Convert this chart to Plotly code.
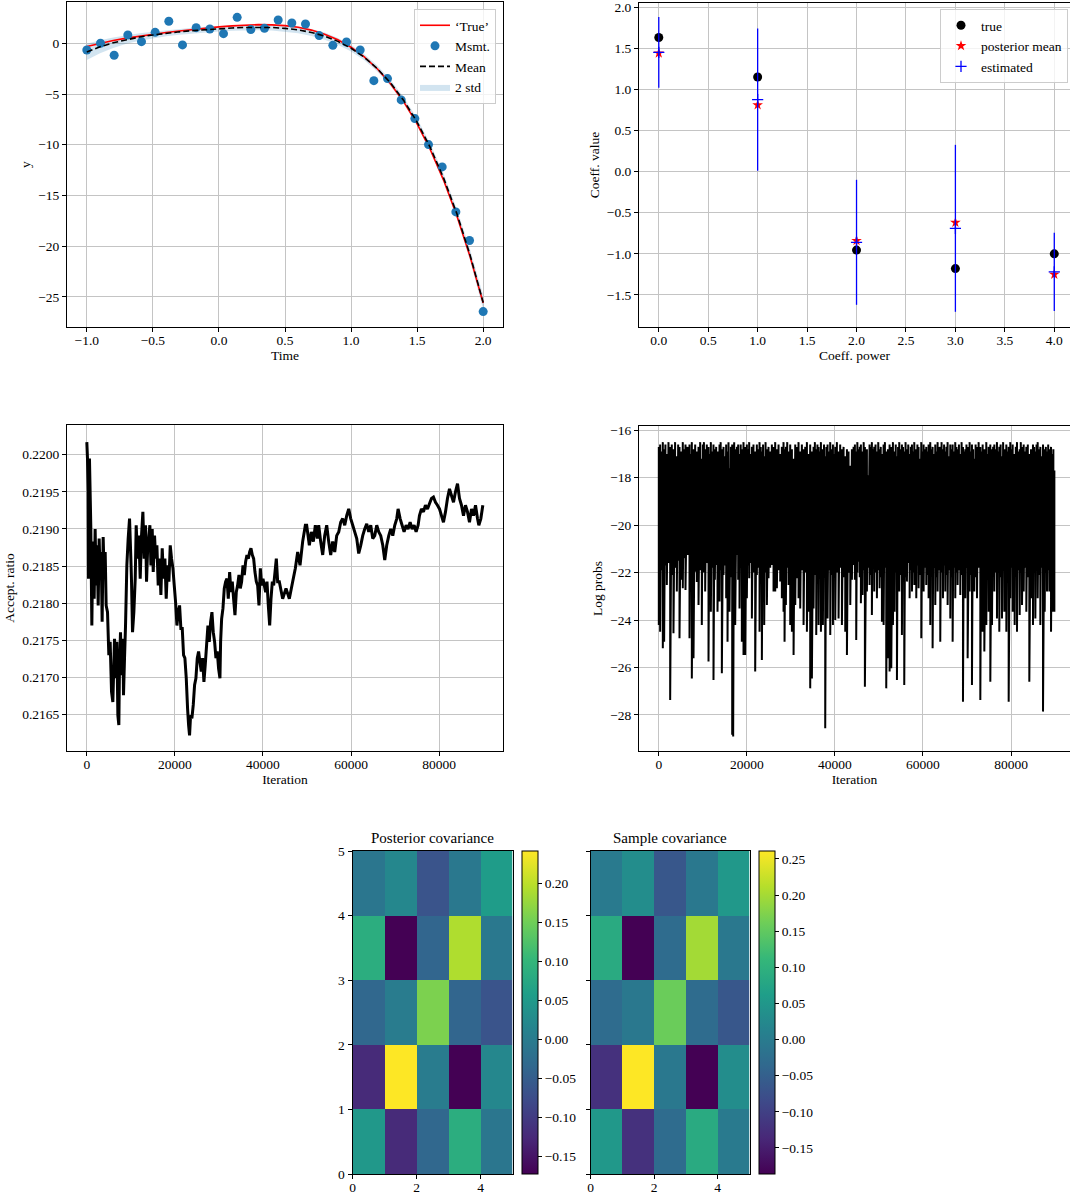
import numpy as np
import plotly.graph_objects as go

W, H = 1070, 1195
FONT = "Liberation Serif"
FS = 13.5

# ---------------- Panel 1: measurements and polynomial fit ----------------
msmt_t = np.linspace(-1.0, 2.0, 30)
msmt_y = [-0.66, 0.00, -1.18, 0.82, 0.16, 1.08, 2.17, -0.16, 1.54, 1.41,
          0.95, 2.56, 1.35, 1.48, 2.30, 2.00, 1.90, 0.76, -0.20, 0.13,
          -0.66, -3.68, -3.48, -5.58, -7.42, -9.98, -12.18, -16.62, -19.44, -26.44]
curve_t = np.linspace(-1.0, 2.0, 31)
true_y = [-0.31, 0.01, 0.28, 0.51, 0.71, 0.89, 1.06, 1.21, 1.36, 1.50,
          1.62, 1.72, 1.80, 1.84, 1.82, 1.74, 1.58, 1.30, 0.90, 0.35,
          -0.39, -1.34, -2.53, -4.01, -5.80, -7.94, -10.49, -13.48, -16.96, -20.99, -25.60]
mean_y = [-0.85, -0.34, 0.05, 0.37, 0.62, 0.82, 0.99, 1.13, 1.25, 1.35,
          1.44, 1.51, 1.56, 1.58, 1.56, 1.47, 1.32, 1.07, 0.71, 0.19,
          -0.49, -1.38, -2.51, -3.93, -5.66, -7.76, -10.28, -13.26, -16.76, -20.83, -25.54]
band_2std = [0.80, 0.65, 0.52, 0.42, 0.36, 0.32, 0.30, 0.29, 0.28, 0.28,
             0.28, 0.28, 0.28, 0.29, 0.30, 0.32, 0.34, 0.35, 0.35, 0.34,
             0.32, 0.30, 0.30, 0.31, 0.33, 0.35, 0.37, 0.40, 0.45, 0.55, 0.70]

# ---------------- Panel 2: coefficients ----------------
coeff_power = [0, 1, 2, 3, 4]
coeff_true = [1.63, 1.15, -0.955, -1.18, -1.00]
coeff_post_mean = [1.44, 0.81, -0.84, -0.62, -1.25]
coeff_est = [1.45, 0.875, -0.86, -0.69, -1.22]
coeff_est_err = [0.43, 0.865, 0.76, 1.015, 0.475]

# ---------------- Panel 3: acceptance ratio ----------------
acc_iter = [0, 150, 300, 380, 600, 900, 1140, 1360, 1670, 1890, 2120, 2350, 2580, 2800, 3030,
            3260, 3480, 3710, 3940, 4170, 4390, 4700, 5000, 5300, 5610, 5910, 6290, 6520, 6820,
            7050, 7270, 7420, 7650, 7880, 8180, 8330, 8560, 8790, 9090, 9390, 9700, 10000, 10150,
            10380, 10680, 10990, 11210, 11520, 11820, 12120, 12420, 12730, 13030, 13330, 13560,
            13790, 14090, 14320, 14550, 14850, 15080, 15380, 15610, 15910, 16210, 16520, 16820,
            17120, 17420, 17730, 18030, 18330, 18640, 18940, 19240, 19550, 19850, 20150, 20460,
            20760, 21060, 21360, 21670, 21970, 22270, 22580, 22880, 23110, 23330, 23560, 23860,
            24170, 24470, 24770, 25080, 25380, 25680, 25990, 26290, 26590, 26890, 27200, 27500,
            27800, 28110, 28410, 28710, 29020, 29320, 29620, 29920, 30230, 30380, 30610, 30910,
            31210, 31520, 31820, 32120, 32430, 32730, 33030, 33330, 33640, 33940, 34240, 34550,
            34850, 35150, 35460, 35760, 36060, 36360, 36670, 36970, 37270, 37580, 37880, 38180,
            38490, 38790, 39090, 39400, 39700, 40000, 40300, 40610, 40910, 41210, 41520, 41820,
            42120, 42430, 42730, 43030, 43330,
            43710, 44470, 45230, 45980, 46740, 47350, 47880, 48410, 49010, 49620, 49920, 50530,
            50980, 51440, 51890, 52350, 52650, 53100, 53560, 54010, 54470, 54920, 55380, 55830,
            56290, 56740, 57200, 57650, 58100, 58560, 59010, 59470, 59920, 60380, 60830, 61290,
            61740, 62200, 62650, 63100, 63560, 64010, 64470, 64920, 65380, 65830, 66290, 66740,
            67200, 67650, 68100, 68560, 69010, 69470, 69920, 70380, 70680, 71140, 71590, 72040,
            72500, 72950, 73410, 73860, 74320, 74770, 75230, 75530, 75980, 76440, 76890, 77350,
            77800, 78260, 78710, 79170, 79620, 80080, 80530, 80980, 81440, 81890, 82350, 82800,
            83260, 83710, 84170, 84620, 85070, 85530, 85980, 86440, 86890, 87350, 87800, 88260,
            88710, 89010, 89470, 89920]
acc_ratio = [0.22017, 0.21995, 0.21950, 0.21833, 0.21995, 0.21905, 0.21770, 0.21883, 0.21806,
             0.21900, 0.21824, 0.21878, 0.21797, 0.21887, 0.21838, 0.21869, 0.21775, 0.21889,
             0.21838, 0.21869, 0.21797, 0.21788, 0.21730, 0.21748, 0.21681, 0.21667, 0.21752,
             0.21699, 0.21748, 0.21649, 0.21636, 0.21717, 0.21761, 0.21703, 0.21752, 0.21676,
             0.21726, 0.21770, 0.21851, 0.21887, 0.21914, 0.21860, 0.21829, 0.21761, 0.21788,
             0.21833, 0.21905, 0.21860, 0.21891, 0.21833, 0.21891, 0.21923, 0.21860, 0.21905,
             0.21829, 0.21869, 0.21891, 0.21905, 0.21851, 0.21900, 0.21842, 0.21891, 0.21860,
             0.21878, 0.21824, 0.21860, 0.21811, 0.21874, 0.21833, 0.21860, 0.21806, 0.21851,
             0.21829, 0.21878, 0.21860, 0.21847, 0.21824, 0.21802, 0.21770, 0.21788, 0.21797,
             0.21766, 0.21766, 0.21730, 0.21726, 0.21699, 0.21658, 0.21636, 0.21622, 0.21649,
             0.21645, 0.21663, 0.21690, 0.21699, 0.21726, 0.21735, 0.21721, 0.21708, 0.21726,
             0.21694, 0.21717, 0.21744, 0.21770, 0.21748, 0.21775, 0.21788, 0.21761, 0.21748,
             0.21726, 0.21735, 0.21712, 0.21699, 0.21748, 0.21779, 0.21793, 0.21820, 0.21829,
             0.21833, 0.21806, 0.21842, 0.21815, 0.21829, 0.21806, 0.21784, 0.21815, 0.21824,
             0.21838, 0.21820, 0.21829, 0.21851, 0.21838, 0.21856, 0.21865, 0.21860, 0.21869,
             0.21874, 0.21865, 0.21860, 0.21842, 0.21829, 0.21824, 0.21797, 0.21847, 0.21824,
             0.21833, 0.21824, 0.21815, 0.21829, 0.21797, 0.21770, 0.21806, 0.21829, 0.21824,
             0.21842, 0.21860, 0.21829,
             0.21829, 0.21806, 0.21820, 0.21806, 0.21829, 0.21847, 0.21869, 0.21851, 0.21883,
             0.21905, 0.21905, 0.21878, 0.21896, 0.21883, 0.21905, 0.21887, 0.21905, 0.21883,
             0.21865, 0.21891, 0.21905, 0.21883, 0.21865, 0.21883, 0.21869, 0.21891, 0.21896,
             0.21909, 0.21914, 0.21905, 0.21918, 0.21927, 0.21914, 0.21905, 0.21896, 0.21887,
             0.21867, 0.21878, 0.21891, 0.21900, 0.21907, 0.21896, 0.21905, 0.21887, 0.21891,
             0.21905, 0.21896, 0.21891, 0.21878, 0.21858, 0.21878, 0.21891, 0.21900, 0.21891,
             0.21905, 0.21914, 0.21927, 0.21914, 0.21905, 0.21896, 0.21905, 0.21900, 0.21909,
             0.21900, 0.21905, 0.21896, 0.21905, 0.21918, 0.21927, 0.21923, 0.21932, 0.21927,
             0.21934, 0.21941, 0.21943, 0.21936, 0.21932, 0.21927, 0.21918, 0.21909, 0.21923,
             0.21941, 0.21954, 0.21945, 0.21936, 0.21950, 0.21961, 0.21941, 0.21932, 0.21918,
             0.21932, 0.21923, 0.21909, 0.21927, 0.21918, 0.21932, 0.21914, 0.21905, 0.21914,
             0.21932]

# ---------------- Panel 4: log probs (per-bin max / min of the trace) ----------------
lp_iter = [0, 300, 600, 910, 1210, 1500, 1820, 2200, 2580, 2950,
           3330, 3700, 4090, 4400, 4700, 5080, 5450, 5750, 6060, 6520,
           6970, 7250, 7500, 7880, 8260, 8640, 9020, 9400, 9770, 10000,
           10250, 10530, 10900, 11290, 11560, 11820, 12120, 12420, 12730, 13030,
           13330, 13790, 14050, 14320, 14700, 15000, 15300, 15610, 15830, 16060,
           16360, 16670, 16890, 17120, 17350, 17730, 18030, 18330, 18600, 18860,
           19240, 19430, 19620, 20000, 20260, 20530, 20830, 21140, 21500, 21890,
           22270, 22570, 22880, 23150, 23410, 23680, 23940, 24250, 24550, 24920,
           25300, 25680, 26060, 26440, 26820, 27200, 27580, 27950, 28330, 28560,
           28860, 29170, 29470, 29850, 30230, 30610, 30990, 31360, 31740, 32120,
           32500, 32880, 33260, 33640, 34020, 34390, 34770, 35150, 35450, 35760,
           36030, 36290, 36550, 36820, 37270, 37530, 37800, 38060, 38330, 38630,
           38940, 39250, 39550, 39800, 40080, 40450, 40830, 41200, 41590, 41970,
           42350, 42730, 43100, 43490, 43860,
           44240, 44540, 44840, 45100, 45370, 45640, 45900, 46280, 46540, 46810,
           47270, 47570, 47870, 48130, 48400, 48660, 48930, 49230, 49540, 49850,
           50150, 50410, 50680, 51060, 51360, 51660, 52040, 52420, 52800, 53180,
           53560, 53820, 54090, 54350, 54620, 54920, 55220, 55480, 55750, 56050,
           56360, 56660, 56970, 57230, 57500, 57760, 58030, 58480, 58740, 59010,
           59310, 59620, 59880, 60150, 60450, 60750, 61010, 61280, 61660, 61920,
           62190, 62500, 62800, 63060, 63330, 63630, 63930, 64230, 64540, 64800,
           65070, 65330, 65600, 65900, 66210, 66470, 66740, 67040, 67340, 67600,
           67870, 68170, 68480, 68780, 69090, 69350, 69620, 69880, 70150, 70600,
           70860, 71130, 71400, 71660, 71960, 72270, 72650, 73030, 73300, 73560,
           73940, 74390, 74650, 74920, 75300, 75680, 75940, 76210, 76510, 76810,
           77070, 77340, 77640, 77950, 78210, 78480, 78940, 79200, 79470, 79840,
           80110, 80380, 80830, 81090, 81360, 81660, 81970, 82230, 82500, 82880,
           83180, 83480, 83820, 84160, 84540, 84990, 85260, 85530, 85800, 86060,
           86360, 86660, 86960, 87270, 87650, 87910, 88180, 88450, 88710, 89090,
           89390, 89620, 89850]
lp_low = [-24.21, -24.49, -21.9, -25.19, -24.91, -21.7, -22.52, -21.6, -27.37, -22.1,
          -24.56, -21.8, -22.80, -21.5, -24.77, -22.3, -22.66, -21.4, -22.73, -21.26,
          -24.77, -22.0, -26.46, -25.61, -21.96, -22.4, -23.37, -21.9, -24.21, -21.26,
          -22.0, -22.80, -21.6, -25.75, -22.2, -23.65, -21.8, -26.53, -22.3, -21.68,
          -23.65, -23.22, -21.9, -26.24, -22.10, -21.7, -23.08, -24.91, -21.9, -23.65,
          -22.2, -28.84, -28.91, -22.0, -24.21, -21.26, -22.3, -23.51, -21.8, -24.91,
          -25.47, -22.1, -25.47, -23.08, -21.7, -22.24, -21.6, -23.93, -22.0, -26.17,
          -22.10, -21.8, -24.49, -22.2, -25.68, -21.9, -24.21, -22.0, -23.37, -22.24,
          -21.8, -21.68, -22.80, -22.80, -22.66, -21.9, -22.38, -23.08, -23.65, -24.91,
          -23.37, -21.8, -22.52, -24.21, -24.49, -25.47, -23.37, -22.24, -23.08, -23.51,
          -21.9, -24.21, -22.0, -24.49, -23.65, -26.88, -26.46, -23.51, -22.1, -24.63,
          -22.0, -24.21, -21.8, -24.49, -24.21, -22.2, -28.56, -22.0, -23.93, -21.9,
          -24.63, -22.1, -24.21, -21.7, -24.00, -22.0, -23.93, -21.8, -24.21, -22.2,
          -24.49, -25.47, -22.0, -23.37, -22.3,
          -21.68, -22.3, -24.84, -22.0, -21.54, -22.2, -23.29, -22.94, -21.9, -26.81,
          -22.80, -21.8, -22.52, -22.1, -23.79, -21.7, -22.80, -22.0, -23.08, -21.9,
          -22.66, -22.2, -24.07, -24.21, -21.8, -26.88, -25.61, -26.17, -26.03, -24.21,
          -23.65, -22.0, -26.53, -21.7, -22.80, -22.1, -24.63, -21.9, -26.74, -22.2,
          -22.38, -21.6, -23.08, -21.9, -22.80, -22.0, -22.52, -23.08, -21.7, -22.66,
          -22.1, -24.77, -21.9, -22.80, -21.8, -22.52, -22.1, -23.08, -24.21, -22.0,
          -25.19, -21.8, -23.37, -22.2, -22.80, -21.9, -24.91, -22.0, -23.08, -21.7,
          -22.80, -22.1, -23.37, -21.9, -23.93, -22.2, -24.91, -21.8, -23.08, -22.0,
          -22.52, -21.9, -22.94, -22.1, -27.44, -22.0, -23.08, -21.8, -25.61, -22.80,
          -22.1, -26.74, -21.9, -22.80, -22.2, -23.08, -21.8, -27.37, -22.0, -24.49,
          -25.33, -24.21, -22.1, -23.65, -26.60, -24.21, -21.9, -22.80, -22.0, -23.93,
          -21.8, -24.49, -22.2, -23.93, -21.9, -23.65, -24.49, -22.0, -27.44, -23.08,
          -21.8, -23.65, -24.21, -22.1, -24.49, -21.9, -23.79, -22.0, -23.37, -22.80,
          -21.8, -23.65, -22.2, -26.60, -23.08, -24.21, -22.0, -23.93, -21.9, -23.08,
          -22.1, -24.21, -21.8, -27.86, -23.65, -22.0, -22.80, -21.9, -22.80, -24.49,
          -23.65, -22.1, -23.65]
lp_high = [-16.7, -16.6, -16.9, -16.5, -16.8, -16.6, -17.0, -16.5, -16.7, -16.6,
           -16.8, -16.5, -17.1, -16.6, -16.7, -16.9, -16.5, -16.8, -16.6, -16.7,
           -16.6, -17.0, -16.5, -16.8, -16.6, -16.9, -16.7, -16.5, -17.2, -16.6,
           -16.5, -16.8, -16.6, -16.7, -17.0, -16.5, -16.9, -16.6, -16.8, -16.7,
           -16.9, -16.6, -16.5, -16.8, -16.7, -17.1, -16.6, -16.9, -16.5, -17.6,
           -16.7, -16.6, -16.9, -16.5, -16.8, -16.7, -16.6, -17.0, -16.6, -16.8,
           -16.5, -16.9, -16.7, -16.6, -16.8, -16.5, -17.0, -16.7, -16.6, -16.9,
           -16.6, -16.8, -16.5, -16.7, -16.9, -16.6, -17.1, -16.5, -16.8, -16.7,
           -16.9, -16.6, -16.7, -16.5, -16.8, -16.6, -17.0, -16.7, -16.5, -16.8,
           -16.7, -16.5, -16.9, -16.6, -16.8, -17.2, -16.6, -16.7, -16.5, -16.9,
           -16.6, -16.8, -16.7, -16.5, -17.0, -16.6, -16.9, -16.7, -16.5, -16.8,
           -16.6, -16.7, -16.9, -16.5, -16.8, -16.6, -17.1, -16.7, -16.6, -16.9,
           -16.5, -16.8, -16.6, -17.0, -16.7, -16.5, -16.9, -16.6, -16.8, -16.7,
           -17.1, -16.8, -16.9, -17.5, -16.8,
           -16.7, -16.6, -16.9, -16.5, -16.8, -16.7,
           -16.6, -16.9, -16.5, -16.7, -16.8, -17.9, -16.6, -16.7, -16.5, -16.8,
           -16.7, -16.6, -16.9, -16.5, -16.8, -16.7, -17.0, -16.6, -16.5, -16.9,
           -16.8, -16.6, -16.7, -16.5, -16.9, -16.6, -17.1, -16.7, -16.5, -16.8,
           -16.6, -16.7, -16.9, -16.5, -16.8, -16.6, -17.0, -16.7, -16.6, -16.9,
           -16.5, -16.8, -16.6, -16.7, -17.2, -16.5, -16.9, -16.6, -16.8, -16.7,
           -16.9, -16.6, -16.5, -16.8, -16.7, -17.0, -16.6, -16.9, -16.5, -16.7,
           -16.7, -16.5, -16.8, -16.6, -16.9, -16.7, -16.5, -17.1, -16.6, -16.8,
           -16.6, -16.9, -16.5, -16.7, -16.8, -16.6, -17.0, -16.5, -16.7, -16.9,
           -16.8, -16.6, -16.7, -16.5, -16.9, -16.6, -16.8, -17.2, -16.6, -16.7,
           -16.5, -16.7, -16.9, -16.6, -16.8, -16.5, -17.0, -16.7, -16.6, -16.8,
           -16.7, -16.6, -16.8, -16.5, -16.9, -16.7, -16.6, -17.1, -16.5, -16.8,
           -16.6, -16.9, -16.7, -16.5, -16.8, -16.6, -17.0, -16.7, -16.5, -16.9,
           -16.8, -16.5, -16.7, -16.6, -16.9, -16.7, -16.6, -17.0, -16.8, -16.6,
           -16.7, -16.9, -16.6, -16.5, -16.8, -16.7, -17.1, -16.6, -16.8, -16.7,
           -16.9, -16.6, -16.8, -16.7, -17.0, -16.8, -17.7]

# ---------------- Panels 5/6: covariance matrices (row 0 at bottom) ----------------
cov_edges = [0, 1, 2, 3, 4, 5]
post_cov = [[0.047, -0.123, -0.035, 0.085, -0.010],
            [-0.123, 0.242, 0.000, -0.173, 0.020],
            [-0.035, 0.000, 0.159, -0.038, -0.065],
            [0.085, -0.173, -0.038, 0.192, -0.007],
            [-0.010, 0.020, -0.065, -0.007, 0.055]]
samp_cov = [[0.051, -0.123, -0.030, 0.087, -0.003],
            [-0.123, 0.261, -0.007, -0.186, 0.033],
            [-0.030, -0.007, 0.158, -0.030, -0.065],
            [0.087, -0.186, -0.030, 0.199, -0.007],
            [-0.003, 0.033, -0.065, -0.007, 0.051]]


# ---------------- helpers ----------------
def dom_x(a, b):
    return [a / W, b / W]


def dom_y(top, bottom):
    return [1 - bottom / H, 1 - top / H]


tick_font = dict(family=FONT, size=FS, color="black")


def ax(**kw):
    base = dict(showline=True, linecolor="black", linewidth=1, mirror=True,
                ticks="outside", ticklen=4, tickwidth=1, tickcolor="black",
                showgrid=True, gridcolor="#c4c4c4", gridwidth=1, zeroline=False,
                tickfont=tick_font, automargin=False, ticklabeloverflow="allow")
    base.update(kw)
    return base


def ttl(text, standoff):
    return dict(text=text, font=dict(family=FONT, size=FS, color="black"), standoff=standoff)


fig = go.Figure()

# Panel 1
band_lo = [m - b for m, b in zip(mean_y, band_2std)]
band_hi = [m + b for m, b in zip(mean_y, band_2std)]
fig.add_trace(go.Scatter(x=curve_t, y=band_lo, mode="lines", line=dict(width=0),
                         showlegend=False, hoverinfo="skip", xaxis="x", yaxis="y"))
fig.add_trace(go.Scatter(x=curve_t, y=band_hi, mode="lines", line=dict(width=0),
                         fill="tonexty", fillcolor="rgba(31,119,180,0.2)", name="2 std",
                         legendrank=4, xaxis="x", yaxis="y"))
fig.add_trace(go.Scatter(x=curve_t, y=true_y, mode="lines", line=dict(color="red", width=1.6),
                         name="‘True’", legendrank=1, xaxis="x", yaxis="y"))
fig.add_trace(go.Scatter(x=msmt_t, y=msmt_y, mode="markers",
                         marker=dict(color="#1f77b4", size=9), name="Msmt.",
                         legendrank=2, xaxis="x", yaxis="y"))
fig.add_trace(go.Scatter(x=curve_t, y=mean_y, mode="lines",
                         line=dict(color="black", width=1.6, dash="6px,3px"),
                         name="Mean", legendrank=3, xaxis="x", yaxis="y"))

# Panel 2
fig.add_trace(go.Scatter(x=coeff_power, y=coeff_true, mode="markers",
                         marker=dict(color="black", size=9), name="true",
                         legend="legend2", legendrank=1, xaxis="x2", yaxis="y2"))
fig.add_trace(go.Scatter(x=coeff_power, y=coeff_post_mean, mode="markers",
                         marker=dict(color="red", size=8, symbol="star"), name="posterior mean",
                         legend="legend2", legendrank=2, xaxis="x2", yaxis="y2"))
fig.add_trace(go.Scatter(x=coeff_power, y=coeff_est, mode="markers",
                         marker=dict(color="blue", size=8, symbol="cross-thin",
                                     line=dict(color="blue", width=1.3)),
                         error_y=dict(type="data", array=coeff_est_err, visible=True,
                                      color="blue", thickness=1.3, width=0),
                         name="estimated", legend="legend2", legendrank=3,
                         xaxis="x2", yaxis="y2"))

# Panel 3
fig.add_trace(go.Scatter(x=acc_iter, y=acc_ratio, mode="lines",
                         line=dict(color="black", width=3, simplify=False),
                         showlegend=False, xaxis="x3", yaxis="y3"))

# Panel 4
lp_x, lp_y = [], []
for it, hi, lo in zip(lp_iter, lp_high, lp_low):
    lp_x += [it, it]
    lp_y += [hi, lo]
fig.add_trace(go.Scatter(x=lp_x, y=lp_y, mode="lines",
                         line=dict(color="black", width=2, simplify=False),
                         showlegend=False, xaxis="x4", yaxis="y4"))


def cbar(left_px, tickvals):
    return dict(x=left_px / W, xanchor="left", xpad=0, y=1 - 1174 / H, yanchor="bottom",
                ypad=0, len=323 / H, lenmode="fraction", thickness=16, thicknessmode="pixels",
                outlinewidth=1, outlinecolor="black", ticks="outside", ticklen=4,
                tickwidth=1, tickcolor="black", tickfont=tick_font, tickformat=".2f",
                tickvals=tickvals)


fig.add_trace(go.Heatmap(z=post_cov, x=cov_edges, y=cov_edges, colorscale="Viridis",
                         colorbar=cbar(521.5, [-0.15, -0.10, -0.05, 0.0, 0.05, 0.10, 0.15, 0.20]),
                         xaxis="x5", yaxis="y5"))
fig.add_trace(go.Heatmap(z=samp_cov, x=cov_edges, y=cov_edges, colorscale="Viridis",
                         colorbar=cbar(758.5, [-0.15, -0.10, -0.05, 0.0, 0.05, 0.10, 0.15, 0.20, 0.25]),
                         xaxis="x6", yaxis="y6"))

legend_common = dict(bgcolor="rgba(255,255,255,0.8)", bordercolor="#cccccc", borderwidth=1,
                     font=dict(family=FONT, size=FS, color="black"), xanchor="right",
                     yanchor="top", itemwidth=30, tracegroupgap=0, traceorder="normal")

TLS = -3  # pull x tick labels closer to the axis

fig.update_layout(
    width=W, height=H, margin=dict(l=0, r=0, t=0, b=0, autoexpand=False),
    paper_bgcolor="white", plot_bgcolor="white",
    font=dict(family=FONT, size=FS, color="black"),
    legend=dict(x=496 / W, y=1 - 9 / H, **legend_common),
    legend2=dict(x=1068 / W, y=1 - 9 / H, **legend_common),
    xaxis=ax(domain=dom_x(67, 503), range=[-1.15, 2.15], dtick=0.5, tick0=0, tickformat=".1f",
             anchor="y", title=ttl("Time", 2), ticklabelstandoff=TLS),
    yaxis=ax(domain=dom_y(2, 327), range=[-27.96, 4.07], dtick=5, tick0=0,
             anchor="x", title=ttl("y", 4)),
    xaxis2=ax(domain=dom_x(639, 1070), range=[-0.2, 4.159], dtick=0.5, tick0=0, tickformat=".1f",
              anchor="y2", title=ttl("Coeff. power", 2), ticklabelstandoff=TLS),
    yaxis2=ax(domain=dom_y(3, 327), range=[-1.89, 2.05], dtick=0.5, tick0=0, tickformat=".1f",
              anchor="x2", mirror=False, title=ttl("Coeff. value", 4)),
    xaxis3=ax(domain=dom_x(67, 503), range=[-4500, 94500], dtick=20000, tick0=0, tickformat="d",
              anchor="y3", title=ttl("Iteration", 2), ticklabelstandoff=TLS),
    yaxis3=ax(domain=dom_y(425, 751), range=[0.21601, 0.22040], dtick=0.0005, tick0=0.2165,
              tickformat=".4f", anchor="x3", title=ttl("Accept. ratio", 4)),
    xaxis4=ax(domain=dom_x(639, 1070), range=[-4500, 93400], dtick=20000, tick0=0, tickformat="d",
              anchor="y4", title=ttl("Iteration", 2), ticklabelstandoff=TLS),
    yaxis4=ax(domain=dom_y(426, 751), range=[-29.52, -15.82], dtick=2, tick0=0,
              anchor="x4", mirror=False, title=ttl("Log probs", 4)),
    xaxis5=ax(domain=dom_x(352.5, 512.5), range=[0, 5], tickvals=[0, 2, 4], showgrid=False,
              anchor="y5", ticklabelstandoff=TLS),
    yaxis5=ax(domain=dom_y(851, 1174), range=[0, 5], dtick=1, tick0=0, showgrid=False,
              anchor="x5"),
    xaxis6=ax(domain=dom_x(590.5, 749.5), range=[0, 5], tickvals=[0, 2, 4], showgrid=False,
              anchor="y6", ticklabelstandoff=TLS),
    yaxis6=ax(domain=dom_y(851, 1174), range=[0, 5], dtick=1, tick0=0, showgrid=False,
              showticklabels=False, anchor="x6"),
    annotations=[
        dict(text="Posterior covariance", x=432.5 / W, y=1 - 838 / H, xref="paper", yref="paper",
             showarrow=False, xanchor="center", yanchor="middle",
             font=dict(family=FONT, size=15, color="black")),
        dict(text="Sample covariance", x=670 / W, y=1 - 838 / H, xref="paper", yref="paper",
             showarrow=False, xanchor="center", yanchor="middle",
             font=dict(family=FONT, size=15, color="black")),
    ],
)

fig.write_html("out.html")
